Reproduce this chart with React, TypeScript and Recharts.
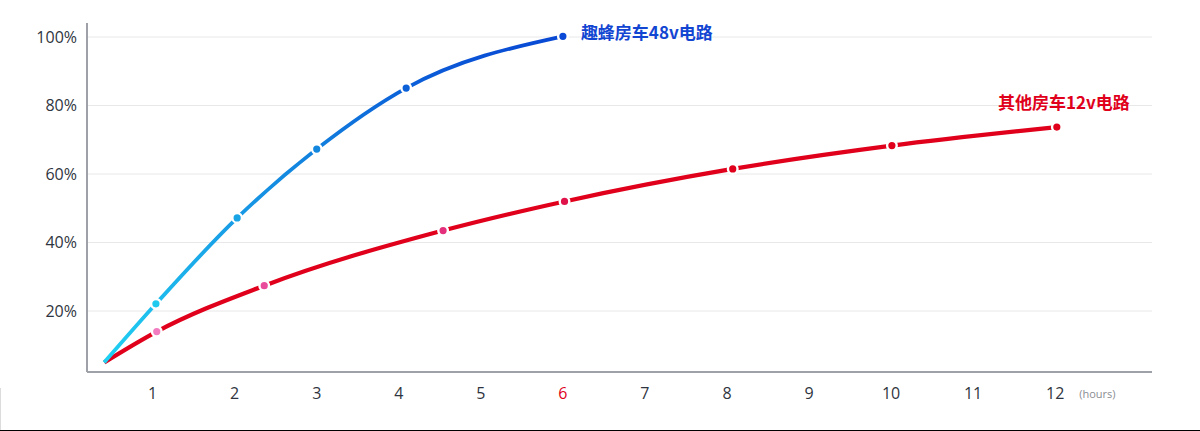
import React from "react"
import { CartesianGrid, Line, LineChart, XAxis, YAxis } from "recharts"

// hours / percent
const hourTicks = [1, 2, 3, 4, 5, 6, 7, 8, 9, 10, 11, 12]
const pctTicks = [20, 40, 60, 80, 100]

const blueHours = [0.41, 1.04, 2.03, 3.0, 4.09, 6.0]
const bluePct = [5, 22.1, 47.2, 67.3, 85.1, 100.2]
const blueName = "趣蜂房车48v电路"

const redHours = [0.41, 1.05, 2.36, 4.54, 6.02, 8.07, 10.01, 12.02]
const redPct = [5, 14, 27.4, 43.5, 52, 61.5, 68.3, 73.7]
const redName = "其他房车12v电路"

const blueData = blueHours.map((x, i) => ({ x, v: bluePct[i] }))
const redData = redHours.map((x, i) => ({ x, v: redPct[i] }))

const blueDotColors = ["#1fcaee", "#1fcaee", "#19a4e6", "#1386de", "#0b60d8", "#0a4ad6"]
const redDotColors = ["#e0001b", "#f27cc0", "#ea4c9c", "#e4307c", "#e0124a", "#e0001b", "#e0001b", "#e0001b"]

const RED = "#e0001b"
const BLUE_TEXT = "#1245d2"

function makeDot(colors: string[], last: number, labelText: string, labelColor: string, labelPos: "right" | "top") {
  return (props: any) => {
    const { cx, cy, index } = props
    if (index === 0 || cx == null) return <g key={`d${index}`} />
    return (
      <g key={`d${index}`}>
        <circle cx={cx} cy={cy} r={4.8} fill={colors[index]} stroke="#fff" strokeWidth={2.4} />
        {index === last && (
          <text
            x={labelPos === "right" ? cx + 18 : cx + 7}
            y={labelPos === "right" ? cy - 2 : cy - 23}
            textAnchor={labelPos === "right" ? "start" : "middle"}
            dominantBaseline="middle"
            fill={labelColor}
            fontSize={17}
            fontWeight={700}
            fontFamily="'Noto Sans CJK SC', 'Noto Sans', sans-serif"
          >
            {labelText}
          </text>
        )}
      </g>
    )
  }
}

function HourTick(props: any) {
  const { x, y, payload } = props
  const v = payload.value
  return (
    <g>
      <text x={x} y={y} dy="0.71em" textAnchor="middle" fill={v === 6 ? RED : "#2f3540"} fontSize={16}>
        {v}
      </text>
      {v === 12 && (
        <text x={x + 24} y={y + 2} dy="0.71em" textAnchor="start" fill="#8a8d92" fontSize={11}>
          (hours)
        </text>
      )}
    </g>
  )
}

export default function App() {
  return (
    <div
      style={{
        position: "absolute",
        left: 0,
        top: 0,
        width: 1200,
        height: 431,
        background: "#fff",
        boxSizing: "border-box",
        borderBottom: "1px solid #000",
        fontFamily: "'Open Sans', 'Noto Sans', sans-serif",
      }}
    >
      <div style={{ position: "absolute", left: 0, top: 388, width: 1, height: 42, background: "#dcdcdc" }} />
      <LineChart width={1200} height={430} margin={{ top: 23, right: 48, bottom: 18, left: 0 }}>
        <defs>
          <linearGradient id="blueGrad" x1="0" y1="1" x2="0" y2="0">
            <stop offset="0%" stopColor="#20d2f2" />
            <stop offset="35%" stopColor="#1aa6e8" />
            <stop offset="65%" stopColor="#1180de" />
            <stop offset="100%" stopColor="#0848d4" />
          </linearGradient>
        </defs>
        <CartesianGrid horizontal vertical={false} horizontalValues={pctTicks} stroke="#e8e8e8" strokeWidth={1} />
        <XAxis
          type="number"
          dataKey="x"
          domain={[0.2, 13.18]}
          ticks={hourTicks}
          allowDataOverflow
          height={40}
          tickLine={false}
          tickSize={0}
          tickMargin={16}
          axisLine={{ stroke: "#9ea2a8", strokeWidth: 2 }}
          tick={<HourTick />}
        />
        <YAxis
          type="number"
          domain={[2.2, 104.1]}
          ticks={pctTicks}
          allowDataOverflow
          width={87}
          tickLine={false}
          tickSize={0}
          tickMargin={10}
          axisLine={{ stroke: "#9ea2a8", strokeWidth: 2 }}
          tickFormatter={(v) => `${v}%`}
          tick={{ fill: "#2f3540", fontSize: 16 }}
        />
        <Line
          data={redData}
          dataKey="v"
          type="monotone"
          stroke={RED}
          strokeWidth={4.2}
          dot={makeDot(redDotColors, redData.length - 1, redName, RED, "top")}
          activeDot={false}
          isAnimationActive={false}
        />
        <Line
          data={blueData}
          dataKey="v"
          type="monotone"
          stroke="url(#blueGrad)"
          strokeWidth={3.8}
          dot={makeDot(blueDotColors, blueData.length - 1, blueName, BLUE_TEXT, "right")}
          activeDot={false}
          isAnimationActive={false}
        />
      </LineChart>
    </div>
  )
}
